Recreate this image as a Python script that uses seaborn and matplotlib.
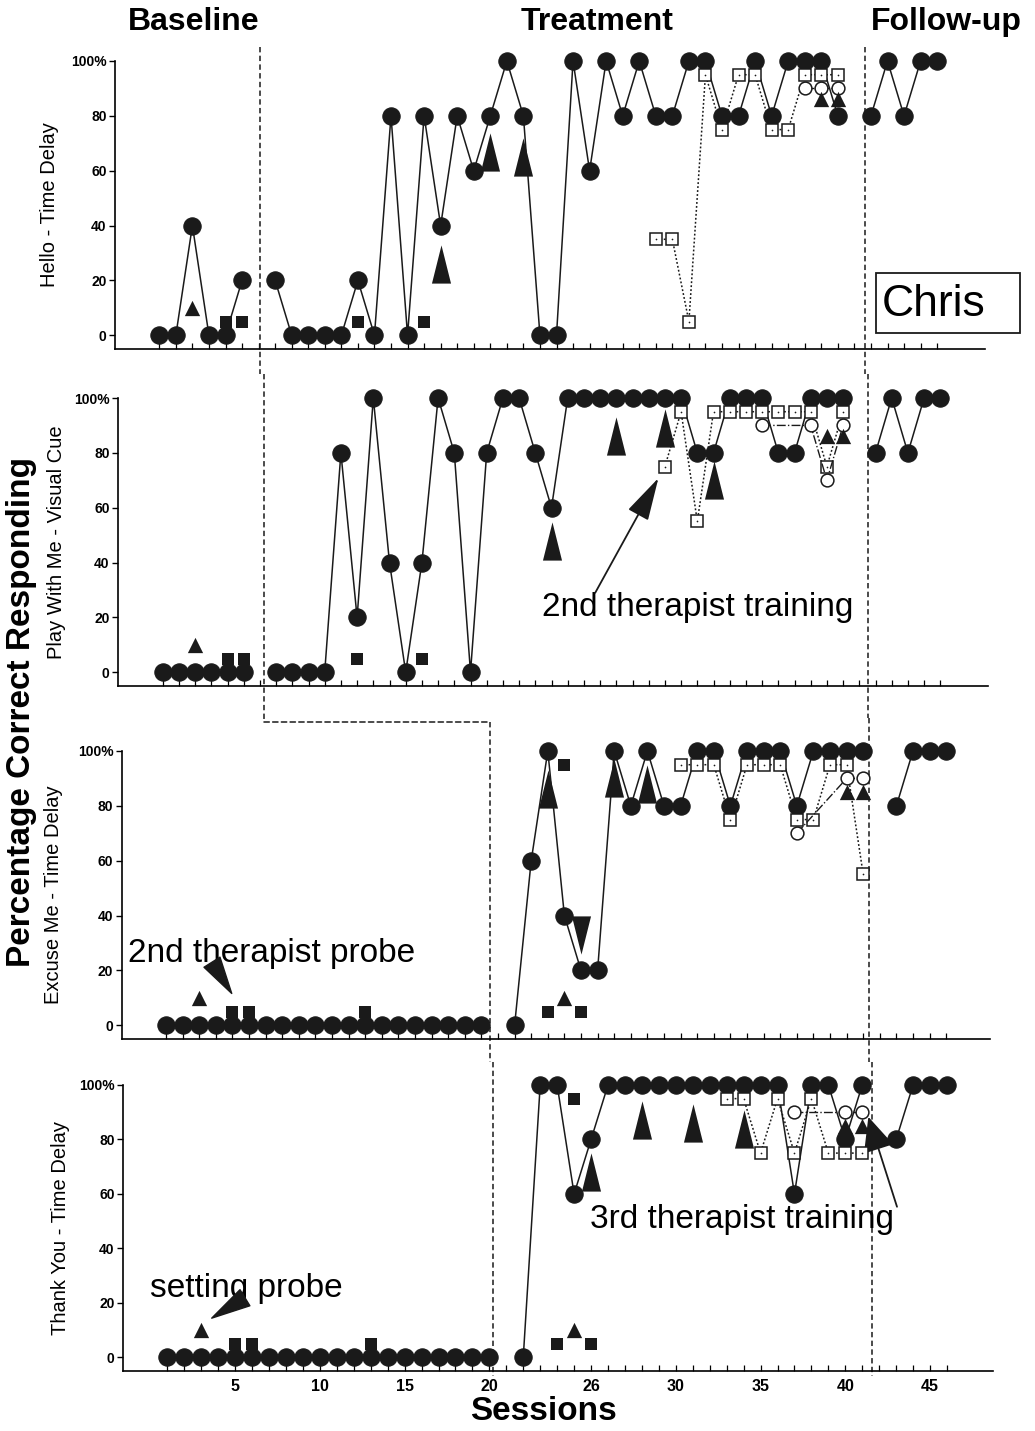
import numpy as np
import pandas as pd
import matplotlib.pyplot as plt
from matplotlib.patches import Rectangle, ConnectionPatch
import seaborn as sns

# values: session number and % correct

# panel 1: Hello - Time Delay
hello_base_s = [1, 2, 3, 4, 5, 6]
hello_base = [0, 0, 40, 0, 0, 20]
hello_treat_s = list(range(8, 43))
hello_treat = [20, 0, 0, 0, 0, 20, 0, 80, 0, 80, 40, 80, 60, 80, 100, 80, 0, 0,
               100, 60, 100, 80, 100, 80, 80, 100, 100, 80, 80, 100, 80, 100, 100, 100, 80]
hello_fu_s = [44, 45, 46, 47, 48]
hello_fu = [80, 100, 80, 100, 100]
hello_sq_s = [5, 6, 13, 17]
hello_sq = [5, 5, 5, 5]
hello_tri_s = [3, 41, 42]
hello_tri = [10, 86, 86]
hello_big_s = [18, 21, 23]
hello_big = [26, 67, 65]
hello_osq_s = list(range(31, 43))
hello_osq = [35, 35, 5, 95, 75, 95, 95, 75, 75, 95, 95, 95]
hello_oc_s = [40, 41, 42]
hello_oc = [90, 90, 90]

# panel 2: Play With Me - Visual Cue
play_base_s = [1, 2, 3, 4, 5, 6]
play_base = [0, 0, 0, 0, 0, 0]
play_treat_s = list(range(8, 44))
play_treat = [0, 0, 0, 0, 80, 20, 100, 40, 0, 40, 100, 80, 0, 80, 100, 100, 80, 60,
              100, 100, 100, 100, 100, 100, 100, 100, 80, 80, 100, 100, 100, 80, 80, 100, 100, 100]
play_fu_s = [45, 46, 47, 48, 49]
play_fu = [80, 100, 80, 100, 100]
play_sq_s = [5, 6, 13, 17]
play_sq = [5, 5, 5, 5]
play_tri_s = [3, 42, 43]
play_tri = [10, 86, 86]
play_big_s = [25, 29, 32, 35]
play_big = [48, 86, 89, 70]
play_osq_s = list(range(32, 44))
play_osq = [75, 95, 55, 95, 95, 95, 95, 95, 95, 95, 75, 95]
play_oc_s = [38, 41, 42, 43]
play_oc = [90, 90, 70, 90]

# panel 3: Excuse Me - Time Delay
excuse_base_s = list(range(1, 21))
excuse_base = [0, 0, 0, 0, 0, 0, 0, 0, 0, 0, 0, 0, 0, 0, 0, 0, 0, 0, 0, 0]
excuse_treat_s = list(range(22, 44))
excuse_treat = [0, 60, 100, 40, 20, 20, 100, 80, 100, 80, 80, 100, 100, 80, 100, 100,
                100, 80, 100, 100, 100, 100]
excuse_fu_s = [45, 46, 47, 48]
excuse_fu = [80, 100, 100, 100]
excuse_sq_s = [5, 6, 13, 24, 25, 26]
excuse_sq = [5, 5, 5, 5, 95, 5]
excuse_tri_s = [3, 25, 42, 43]
excuse_tri = [10, 10, 85, 85]
excuse_big_s = [24, 28, 30]
excuse_big = [86, 90, 88]
excuse_down_s = [26]
excuse_down = [33]
excuse_osq_s = list(range(32, 44))
excuse_osq = [95, 95, 95, 75, 95, 95, 95, 75, 75, 95, 95, 55]
excuse_oc_s = [39, 42, 43]
excuse_oc = [70, 90, 90]

# panel 4: Thank You - Time Delay
thanks_base_s = list(range(1, 21))
thanks_base = [0, 0, 0, 0, 0, 0, 0, 0, 0, 0, 0, 0, 0, 0, 0, 0, 0, 0, 0, 0]
thanks_treat_s = list(range(22, 43))
thanks_treat = [0, 100, 100, 60, 80, 100, 100, 100, 100, 100, 100, 100, 100, 100, 100,
                100, 60, 100, 100, 80, 100]
thanks_fu_s = [44, 45, 46, 47]
thanks_fu = [80, 100, 100, 100]
thanks_sq_s = [5, 6, 13, 24, 25, 26]
thanks_sq = [5, 5, 5, 5, 95, 5]
thanks_tri_s = [3, 25, 41, 42]
thanks_tri = [10, 10, 85, 85]
thanks_big_s = [26, 29, 32, 35]
thanks_big = [68, 87, 86, 84]
thanks_osq_s = list(range(34, 43))
thanks_osq = [95, 95, 75, 95, 75, 95, 75, 75, 75]
thanks_oc_s = [38, 41, 42]
thanks_oc = [90, 90, 90]

panel_names = ["Hello - Time Delay", "Play With Me - Visual Cue",
               "Excuse Me - Time Delay", "Thank You - Time Delay"]
# phase change lines (session units of each panel)
phase1_x = [7.08, 7.25, 20.5, 20.2]
phase2_x = [43.64, 44.55, 43.37, 42.6]

x_tick_pos = [5, 10, 15, 20, 26, 31, 36, 41, 46]
x_tick_lab = ["5", "10", "15", "20", "26", "30", "35", "40", "45"]
y_ticks = [0, 20, 40, 60, 80, 100]
y_tick_lab = ["0", "20", "40", "60", "80", "100%"]

panels = [
    dict(phases=[(hello_base_s, hello_base), (hello_treat_s, hello_treat), (hello_fu_s, hello_fu)],
         sq=(hello_sq_s, hello_sq), tri=(hello_tri_s, hello_tri), big=(hello_big_s, hello_big),
         down=None, osq=(hello_osq_s, hello_osq), oc=(hello_oc_s, hello_oc)),
    dict(phases=[(play_base_s, play_base), (play_treat_s, play_treat), (play_fu_s, play_fu)],
         sq=(play_sq_s, play_sq), tri=(play_tri_s, play_tri), big=(play_big_s, play_big),
         down=None, osq=(play_osq_s, play_osq), oc=(play_oc_s, play_oc)),
    dict(phases=[(excuse_base_s, excuse_base), (excuse_treat_s, excuse_treat), (excuse_fu_s, excuse_fu)],
         sq=(excuse_sq_s, excuse_sq), tri=(excuse_tri_s, excuse_tri), big=(excuse_big_s, excuse_big),
         down=(excuse_down_s, excuse_down), osq=(excuse_osq_s, excuse_osq), oc=(excuse_oc_s, excuse_oc)),
    dict(phases=[(thanks_base_s, thanks_base), (thanks_treat_s, thanks_treat), (thanks_fu_s, thanks_fu)],
         sq=(thanks_sq_s, thanks_sq), tri=(thanks_tri_s, thanks_tri), big=(thanks_big_s, thanks_big),
         down=None, osq=(thanks_osq_s, thanks_osq), oc=(thanks_oc_s, thanks_oc)),
]

sns.set_theme(style="ticks")
plt.rcParams['font.family'] = ['Liberation Sans', 'DejaVu Sans']
plt.rcParams.update({'axes.linewidth': 1.2, 'text.color': 'black', 'axes.edgecolor': 'black',
                     'axes.labelcolor': 'black', 'xtick.color': 'black', 'ytick.color': 'black'})

W, H = 1035, 1431
fig = plt.figure(figsize=(W / 100, H / 100), dpi=100)

# pixel layout: left, right, top (100%), bottom spine, px of session 1, px per session, last tick
layout = [
    (115, 985, 61, 349, 159.3, 16.55, 48),
    (118, 988, 398, 686, 162.7, 16.2, 49),
    (121.7, 990, 751, 1039, 166.0, 16.6, 48),
    (123, 993, 1085, 1371, 167.3, 16.95, 47),
]
YMIN = -5
label_x = [50, 57, 54, 60]

big_up = [(0, 1), (-0.5, -1), (0.5, -1)]
big_down = [(0, -1), (-0.5, 1), (0.5, 1)]

axes = []
for i, (p, (L, R, T, B, a, b, nt)) in enumerate(zip(panels, layout)):
    ax = fig.add_axes([L / W, 1 - B / H, (R - L) / W, (B - T) / H])
    ax.set_facecolor('none')
    axes.append(ax)

    for s, v in p['phases']:
        sns.lineplot(x=s, y=v, ax=ax, color='k', lw=1.1, marker='o', markersize=12.5,
                     mec='k', mfc='k', estimator=None, sort=False, legend=False,
                     clip_on=False, zorder=3)
    s, v = p['osq']
    sns.lineplot(x=s, y=v, ax=ax, color='k', lw=1.1, linestyle=(0, (1.2, 1.4)), marker='s',
                 markersize=8.6, mec='k', mfc='white', mew=1.1, estimator=None, sort=False,
                 legend=False, clip_on=False, zorder=4)
    sns.scatterplot(x=s, y=v, ax=ax, color='k', marker='.', s=6, linewidth=0,
                    legend=False, clip_on=False, zorder=5)
    s, v = p['oc']
    sns.lineplot(x=s, y=v, ax=ax, color='k', lw=1.0, linestyle='-.', marker='o',
                 markersize=9.2, mec='k', mfc='white', mew=1.1, estimator=None, sort=False,
                 legend=False, clip_on=False, zorder=4)
    s, v = p['sq']
    sns.scatterplot(x=s, y=v, ax=ax, color='k', edgecolor='k', marker='s', s=8.6 ** 2,
                    linewidth=0, legend=False, clip_on=False, zorder=5)
    s, v = p['tri']
    sns.scatterplot(x=s, y=v, ax=ax, color='k', edgecolor='k', marker='^', s=11 ** 2,
                    linewidth=0, legend=False, clip_on=False, zorder=5)
    s, v = p['big']
    sns.scatterplot(x=s, y=v, ax=ax, color='k', edgecolor='k', marker=big_up, s=27.5 ** 2,
                    linewidth=0, legend=False, clip_on=False, zorder=5)
    if p['down'] is not None:
        s, v = p['down']
        sns.scatterplot(x=s, y=v, ax=ax, color='k', edgecolor='k', marker=big_down, s=27.5 ** 2,
                        linewidth=0, legend=False, clip_on=False, zorder=5)

    ax.set_xlim((L - a) / b + 1, (R - a) / b + 1)
    ax.set_ylim(YMIN, 100)
    sns.despine(ax=ax)
    ax.spines['left'].set_bounds(YMIN, 100)
    ax.set_xticks(range(1, nt + 1))
    if i == 3:
        ax.set_xticklabels([x_tick_lab[x_tick_pos.index(k)] if k in x_tick_pos else ''
                            for k in range(1, nt + 1)], fontweight='bold', fontsize=11.5)
    else:
        ax.set_xticklabels([])
    ax.tick_params(axis='x', direction='in', length=4.5, width=0.9, pad=6)
    ax.set_yticks(y_ticks)
    ax.set_yticklabels(y_tick_lab, fontweight='bold', fontsize=10)
    ax.tick_params(axis='y', direction='out', length=4, width=1, pad=2)
    ax.set_xlabel('')
    ax.set_ylabel('')
    fig.text(label_x[i] / W, 1 - (T + B) / 2 / H, panel_names[i], rotation=90,
             ha='center', va='center', fontsize=14.5)

# phase change lines (dashed), running through the gaps between panels
dash = dict(color='k', lw=1.1, linestyle=(0, (3.5, 2.2)), clip_on=False, zorder=1)


def frac(i, py):
    L, R, T, B, a, b, nt = layout[i]
    return (B - py) / (B - T)


spans1 = [(47, 374), (374, 722), (722, 1062), (1062, 1376)]
spans2 = [(47, 374), (374, 718), (718, 1062), (1062, 1376)]
for i, ax in enumerate(axes):
    tr = ax.get_xaxis_transform()
    ax.plot([phase1_x[i]] * 2, [frac(i, spans1[i][0]), frac(i, spans1[i][1])], transform=tr, **dash)
    ax.plot([phase2_x[i]] * 2, [frac(i, spans2[i][0]), frac(i, spans2[i][1])], transform=tr, **dash)

step = ConnectionPatch(xyA=(phase1_x[1], frac(1, 722)), coordsA=axes[1].get_xaxis_transform(),
                       xyB=(phase1_x[2], frac(2, 722)), coordsB=axes[2].get_xaxis_transform(),
                       color='k', lw=1.1, linestyle=(0, (3.5, 2.2)))
fig.add_artist(step)

# annotations
arrow_kw = dict(color='k', shrinkA=0, shrinkB=0)
axes[1].text(24.4, 23.5, '2nd therapist training', fontsize=24, ha='left', va='center')
axes[1].annotate('', xy=(31.6, 70.8), xytext=(27.7, 29.0),
                 arrowprops=dict(arrowstyle='-|>,head_length=1.35,head_width=0.36',
                                 mutation_scale=20, lw=1.3, **arrow_kw))
axes[2].text(-1.27, 26.1, '2nd therapist probe', fontsize=24, ha='left', va='center')
axes[2].annotate('', xy=(4.96, 11.6), xytext=(3.77, 23.0),
                 arrowprops=dict(arrowstyle='wedge,tail_width=0.68', mutation_scale=20, **arrow_kw))
axes[3].text(-0.02, 25.4, 'setting probe', fontsize=24, ha='left', va='center')
axes[3].annotate('', xy=(3.62, 14.4), xytext=(5.58, 21.9),
                 arrowprops=dict(arrowstyle='wedge,tail_width=0.68', mutation_scale=20, **arrow_kw))
axes[3].text(25.94, 50.5, '3rd therapist training', fontsize=24, ha='left', va='center')
axes[3].annotate('', xy=(42.36, 88.3), xytext=(44.05, 55.3),
                 arrowprops=dict(arrowstyle='-|>,head_length=1.1,head_width=0.5',
                                 mutation_scale=20, lw=1.3, **arrow_kw))

# participant box
fig.add_artist(Rectangle((876 / W, 1 - 333 / H), 144 / W, 60 / H, transform=fig.transFigure,
                         fill=False, lw=1.3, ec='k'))
fig.text(934 / W, 1 - 305 / H, 'Chris', fontsize=32, ha='center', va='center')

# headers and axis titles
fig.text(194 / W, 1 - 22 / H, 'Baseline', fontsize=23, fontweight='bold', ha='center', va='center')
fig.text(597 / W, 1 - 22 / H, 'Treatment', fontsize=23, fontweight='bold', ha='center', va='center')
fig.text(946 / W, 1 - 22 / H, 'Follow-up', fontsize=23, fontweight='bold', ha='center', va='center')
fig.text(22 / W, 1 - 712 / H, 'Percentage Correct Responding', fontsize=24, fontweight='bold',
         rotation=90, ha='center', va='center')
fig.text(543 / W, 1 - 1412 / H, 'Sessions', fontsize=24, fontweight='bold', ha='center', va='center')

plt.savefig('out.png', dpi=100)
